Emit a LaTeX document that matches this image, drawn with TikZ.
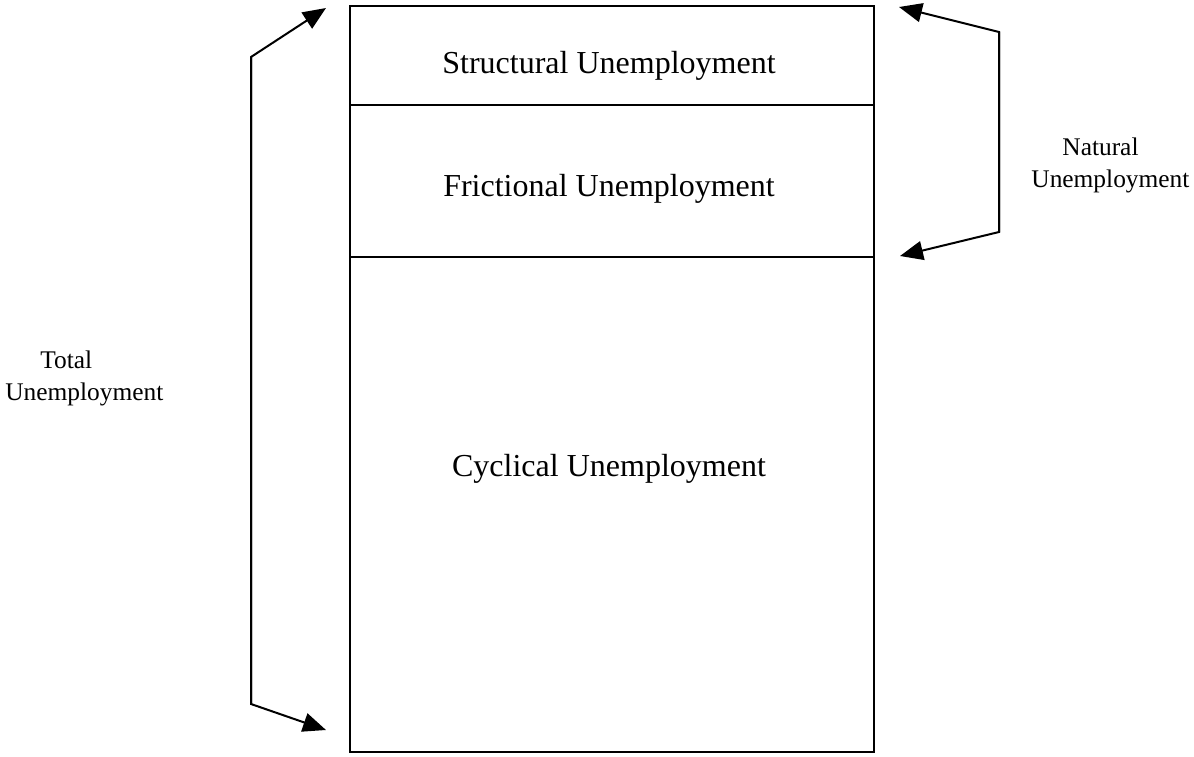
\documentclass[tikz,border=0pt]{standalone}
\usepackage{fontspec}
\setmainfont{Liberation Serif}
\usetikzlibrary{arrows.meta, positioning}

\begin{document}
\begin{tikzpicture}[
    x=0.5pt, y=-0.5pt,
    layer/.style={
        rectangle, draw=black, line width=0.6pt,
        minimum width=262pt, inner sep=0pt, outer sep=0pt
    },
    layertext/.style={
        font=\fontsize{16}{19}\selectfont, anchor=base
    },
    sidetext/.style={
        font=\fontsize{12.7}{15.8}\selectfont, align=left, anchor=base west, inner sep=0pt
    },
    brace/.style={
        -{Triangle[length=11.5pt, width=9.5pt]}, line width=1pt, draw=black
    }
]
\useasboundingbox (0,0) rectangle (1194,756);

% Stacked box
\node[layer, minimum height=49.5pt, anchor=north west] (structural) at (350,6) {};
\node[layer, minimum height=76pt, below=0pt of structural] (frictional) {};
\node[layer, minimum height=247.5pt, below=0pt of frictional] (cyclical) {};

\node[layertext] (structlabel) at (609,73) {Structural Unemployment};
\node[layertext] (friclabel) at (609,196) {Frictional Unemployment};
\node[layertext] (cycllabel) at (609,476) {Cyclical Unemployment};

% Side labels
\node[sidetext] (total) at (5,400) {\hspace*{17.5pt}Total\\Unemployment};
\node[sidetext] (natural) at (1031,187) {\hspace*{15.5pt}Natural\\Unemployment};

% Bracket points
\coordinate (ltop) at (251,57);
\coordinate (lbot) at (251,704);
\coordinate (ltoptip) at (326,8);
\coordinate (lbottip) at (326,730);
\coordinate (rtop) at (999,32);
\coordinate (rbot) at (999,232);
\coordinate (rtoptip) at (899,7);
\coordinate (rbottip) at (900,256);

% Total bracket
\draw[brace] (lbot) -- (ltop) -- (ltoptip);
\draw[brace] (ltop) -- (lbot) -- (lbottip);

% Natural bracket
\draw[brace] (rbot) -- (rtop) -- (rtoptip);
\draw[brace] (rtop) -- (rbot) -- (rbottip);

\end{tikzpicture}
\end{document}
